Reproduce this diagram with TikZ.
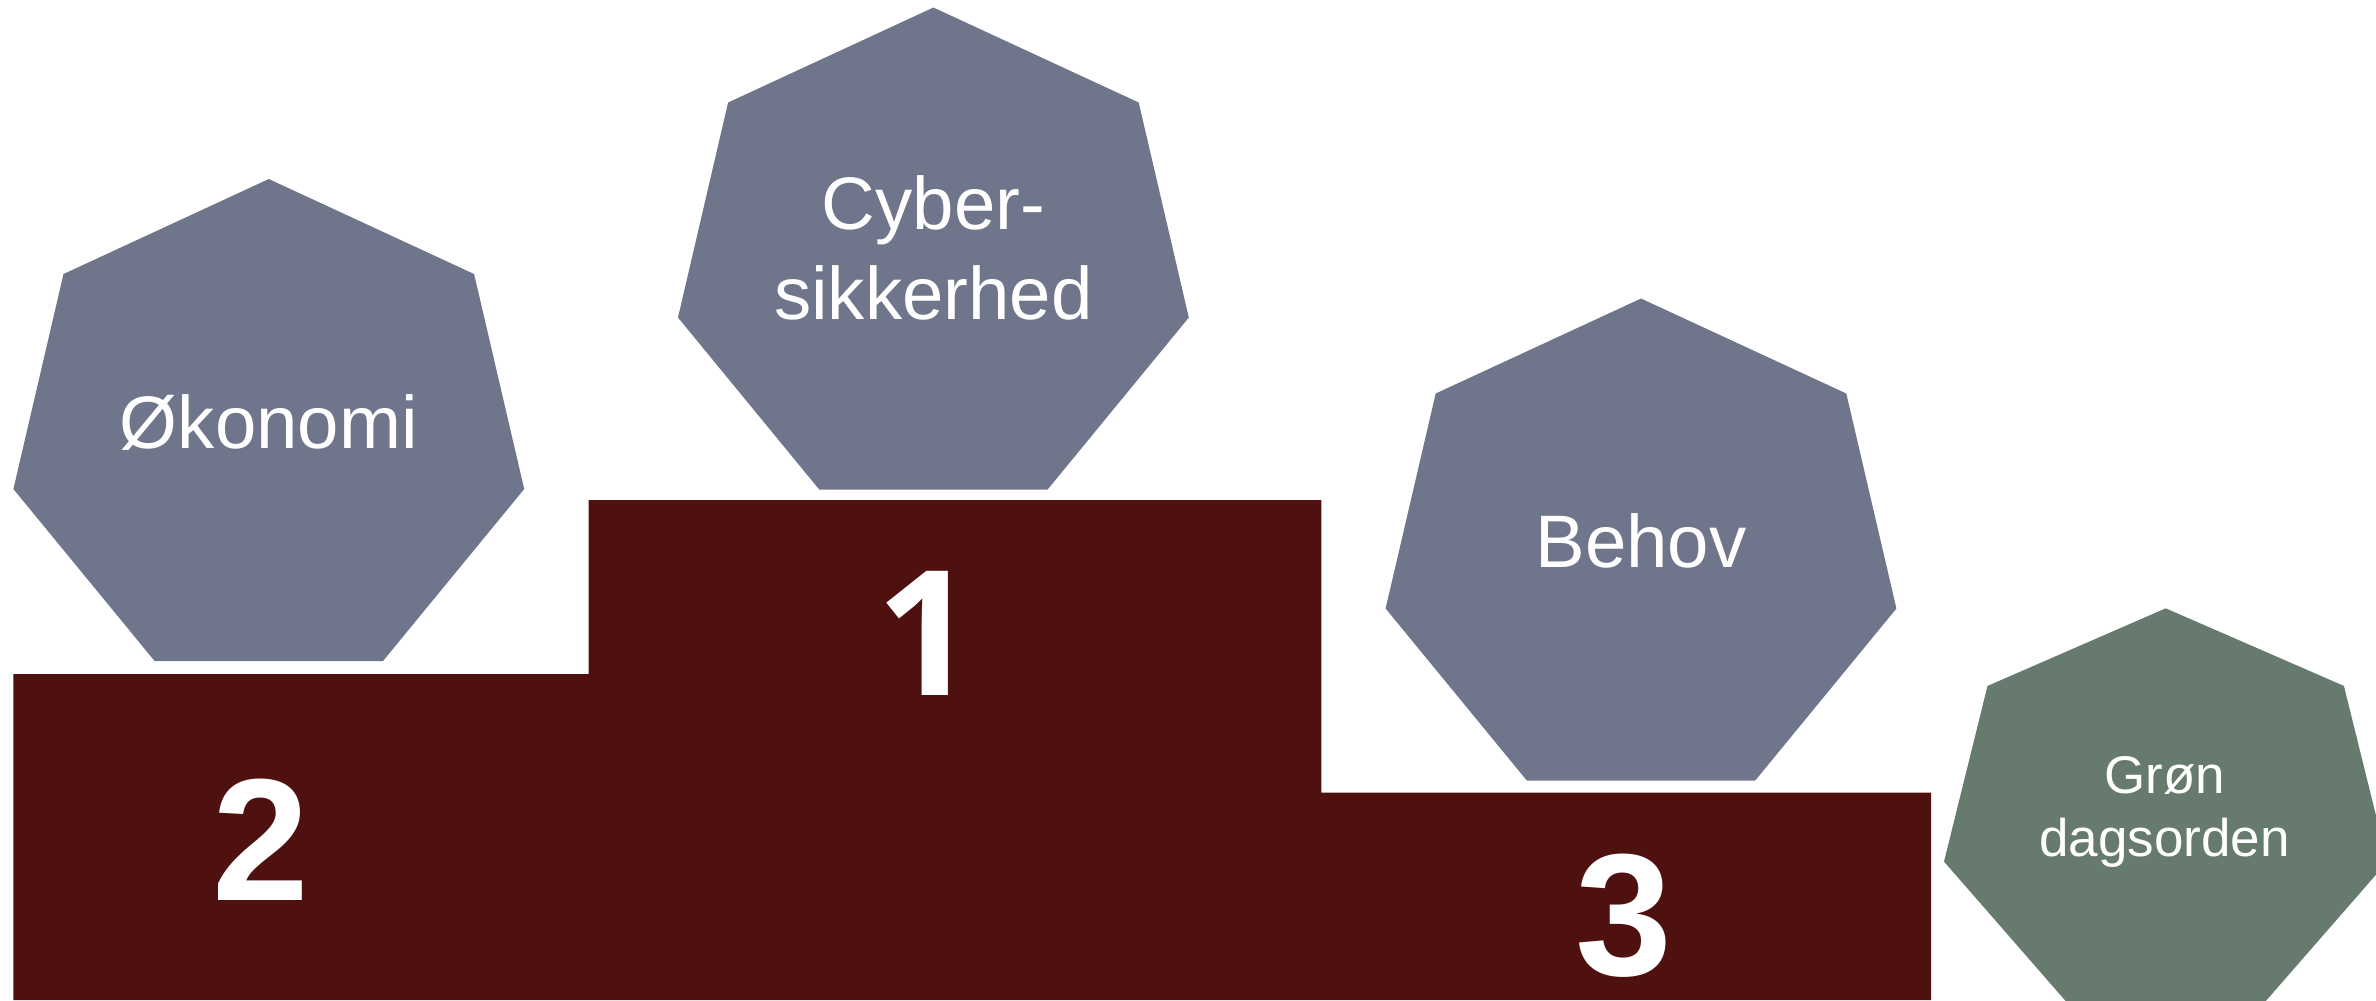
\documentclass[tikz,border=0pt]{standalone}
\usepackage{fontspec}
\setmainfont{Liberation Sans}
\newfontfamily\onefont{Open Sans}
\definecolor{hepblue}{RGB}{111,117,138}
\definecolor{hepgreen}{RGB}{102,122,110}
\definecolor{podiumred}{RGB}{79,16,16}
\tikzset{
  pics/heptagon/.style={code={
    \fill (0,0) -- (205.3,95) -- (255.4,310) -- (114.2,482) -- (-114.2,482)
          -- (-255.4,310) -- (-205.3,95) -- cycle;}},
  lbl/.style={text=white, font=\fontsize{18.6}{22.4}\selectfont, align=center, anchor=base, inner sep=0pt},
  smalllbl/.style={text=white, font=\fontsize{13.25}{15.8}\selectfont, align=center, anchor=base, inner sep=0pt},
  num/.style={text=white, font=\fontsize{43.5}{52}\selectfont\bfseries, anchor=base, inner sep=0pt},
  numone/.style={num, font=\onefont\fontsize{43.5}{52}\selectfont\bfseries},
}
\begin{document}
\begin{tikzpicture}[x=0.25pt,y=-0.25pt]
\path[use as bounding box] (0,0) rectangle (2376,1000);
\clip (0,0) rectangle (2376,1000);
% podium
\fill[podiumred] (13.4,1000) -- (13.4,674) -- (588.5,674) -- (588.5,500) -- (1321.3,500)
  -- (1321.3,792.5) -- (1931,792.5) -- (1931,1000) -- cycle;
% heptagons
\pic[fill=hepblue] at (268.8,179) {heptagon};
\pic[fill=hepblue] at (933.4,7.5) {heptagon};
\pic[fill=hepblue] at (1641,298.5) {heptagon};
\pic[fill=hepgreen, xscale=0.868, yscale=0.817] at (2165.7,608.3) {heptagon};
% labels
\node[lbl] (okonomi) at (268.8,448.2) {Økonomi};
\node[lbl] (cyber) at (933.4,319.5) {Cyber-\\sikkerhed};
\node[lbl] (behov) at (1641,567.2) {Behov};
\node[smalllbl] (gron) at (2164.5,856.7) {Grøn\\dagsorden};
% numbers
\node[numone] (n1) at (926,695.3) {1};
\node[num] (n2) at (260.5,900.6) {2};
\node[num] (n3) at (1624,975.5) {3};
\end{tikzpicture}
\end{document}
